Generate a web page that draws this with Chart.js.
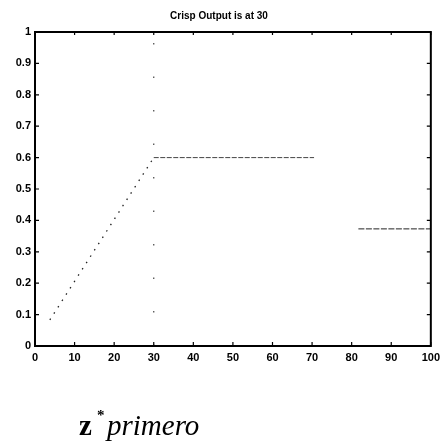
<!DOCTYPE html>
<html>
<head>
<meta charset="utf-8">
<script src="https://cdn.jsdelivr.net/npm/chart.js@4/dist/chart.umd.min.js"></script>
<style>
  html, body { margin: 0; padding: 0; background: #fff; }
  #wrap { width: 445px; height: 447px; }
</style>
</head>
<body>
<div id="wrap"><canvas id="chart"></canvas></div>
<script>
// values
const rampX = [3.75, 30];
const rampY = [0.083, 0.6];
const clipX = [30, 70.5];
const clipY = [0.6, 0.6];
const markX = [30, 30];
const markY = [0, 1];
const outX = [81.7, 100];
const outY = [0.373, 0.373];

const xTicks = [0, 10, 20, 30, 40, 50, 60, 70, 80, 90, 100];
const yTicks = [0, 0.1, 0.2, 0.3, 0.4, 0.5, 0.6, 0.7, 0.8, 0.9, 1];

const titleText = 'Crisp Output is at 30';
const xLabel = ['z', '*', 'primero'];

const sans = "'Liberation Sans', Arial, sans-serif";
const serif = "'Liberation Serif', 'Times New Roman', serif";

const pts = (xs, ys) => xs.map((v, i) => ({ x: v, y: ys[i] }));

// box with inward ticks, like the old matlab frame
const boxPlugin = {
  id: 'box',
  afterDatasetsDraw(chart) {
    const { ctx, chartArea: a, scales: { x, y } } = chart;
    ctx.save();
    ctx.strokeStyle = '#000';
    ctx.lineWidth = 2;
    ctx.strokeRect(a.left, a.top, a.right - a.left, a.bottom - a.top);
    ctx.lineWidth = 1.2;
    ctx.beginPath();
    xTicks.forEach(v => {
      const px = x.getPixelForValue(v);
      ctx.moveTo(px, a.bottom); ctx.lineTo(px, a.bottom - 4);
      ctx.moveTo(px, a.top); ctx.lineTo(px, a.top + 3);
    });
    yTicks.forEach(v => {
      const py = y.getPixelForValue(v);
      ctx.moveTo(a.left, py); ctx.lineTo(a.left + 4, py);
      ctx.moveTo(a.right, py); ctx.lineTo(a.right - 4, py);
    });
    ctx.stroke();
    ctx.restore();
  }
};

// "z* primero" under the plot, mixed fonts so drawn by hand
const labelPlugin = {
  id: 'zlabel',
  afterDraw(chart) {
    const ctx = chart.ctx;
    ctx.save();
    ctx.fillStyle = '#000';
    ctx.textBaseline = 'alphabetic';
    ctx.font = 'bold 29px ' + serif;
    ctx.fillText(xLabel[0], 79, 435);
    ctx.font = 'bold 15px ' + serif;
    ctx.fillText(xLabel[1], 97, 420);
    ctx.font = 'italic 29px ' + serif;
    ctx.fillText(xLabel[2], 107, 435);
    ctx.restore();
  }
};

new Chart(document.getElementById('chart'), {
  type: 'scatter',
  data: {
    datasets: [
      {
        data: pts(rampX, rampY),
        showLine: true,
        borderColor: '#222',
        borderWidth: 1.3,
        borderDash: [1.5, 6],
        pointRadius: 0,
      },
      {
        data: pts(clipX, clipY),
        showLine: true,
        borderColor: '#444',
        borderWidth: 1,
        borderDash: [5, 1.5],
        pointRadius: 0,
      },
      {
        data: pts(markX, markY),
        showLine: true,
        borderColor: '#444',
        borderWidth: 1.2,
        borderDash: [1.5, 32],
        pointRadius: 0,
      },
      {
        data: pts(outX, outY),
        showLine: true,
        borderColor: '#222',
        borderWidth: 1,
        borderDash: [6, 1.5],
        pointRadius: 0,
      },
    ],
  },
  options: {
    responsive: true,
    maintainAspectRatio: false,
    animation: false,
    layout: { padding: { top: 0, right: 7, bottom: 0, left: 0 } },
    plugins: {
      legend: { display: false },
      tooltip: { enabled: false },
      title: {
        display: true,
        text: titleText,
        color: '#000',
        font: { family: sans, size: 10, weight: 'bold' },
        padding: { top: 10, bottom: 10 },
      },
    },
    scales: {
      x: {
        type: 'linear',
        min: 0,
        max: 100,
        afterFit: s => { s.height = 101; },
        afterBuildTicks: s => { s.ticks = xTicks.map(v => ({ value: v })); },
        grid: { display: false, drawTicks: false },
        border: { display: false },
        ticks: {
          padding: 5,
          maxRotation: 0,
          color: '#000',
          font: { family: sans, size: 11, weight: 'bold' },
        },
      },
      y: {
        type: 'linear',
        min: 0,
        max: 1,
        afterFit: s => { s.width = 35; },
        afterBuildTicks: s => { s.ticks = yTicks.map(v => ({ value: v })); },
        grid: { display: false, drawTicks: false },
        border: { display: false },
        ticks: {
          padding: 4,
          color: '#000',
          font: { family: sans, size: 11, weight: 'bold' },
          callback: v => String(v),
        },
      },
    },
  },
  plugins: [boxPlugin, labelPlugin],
});
</script>
</body>
</html>
